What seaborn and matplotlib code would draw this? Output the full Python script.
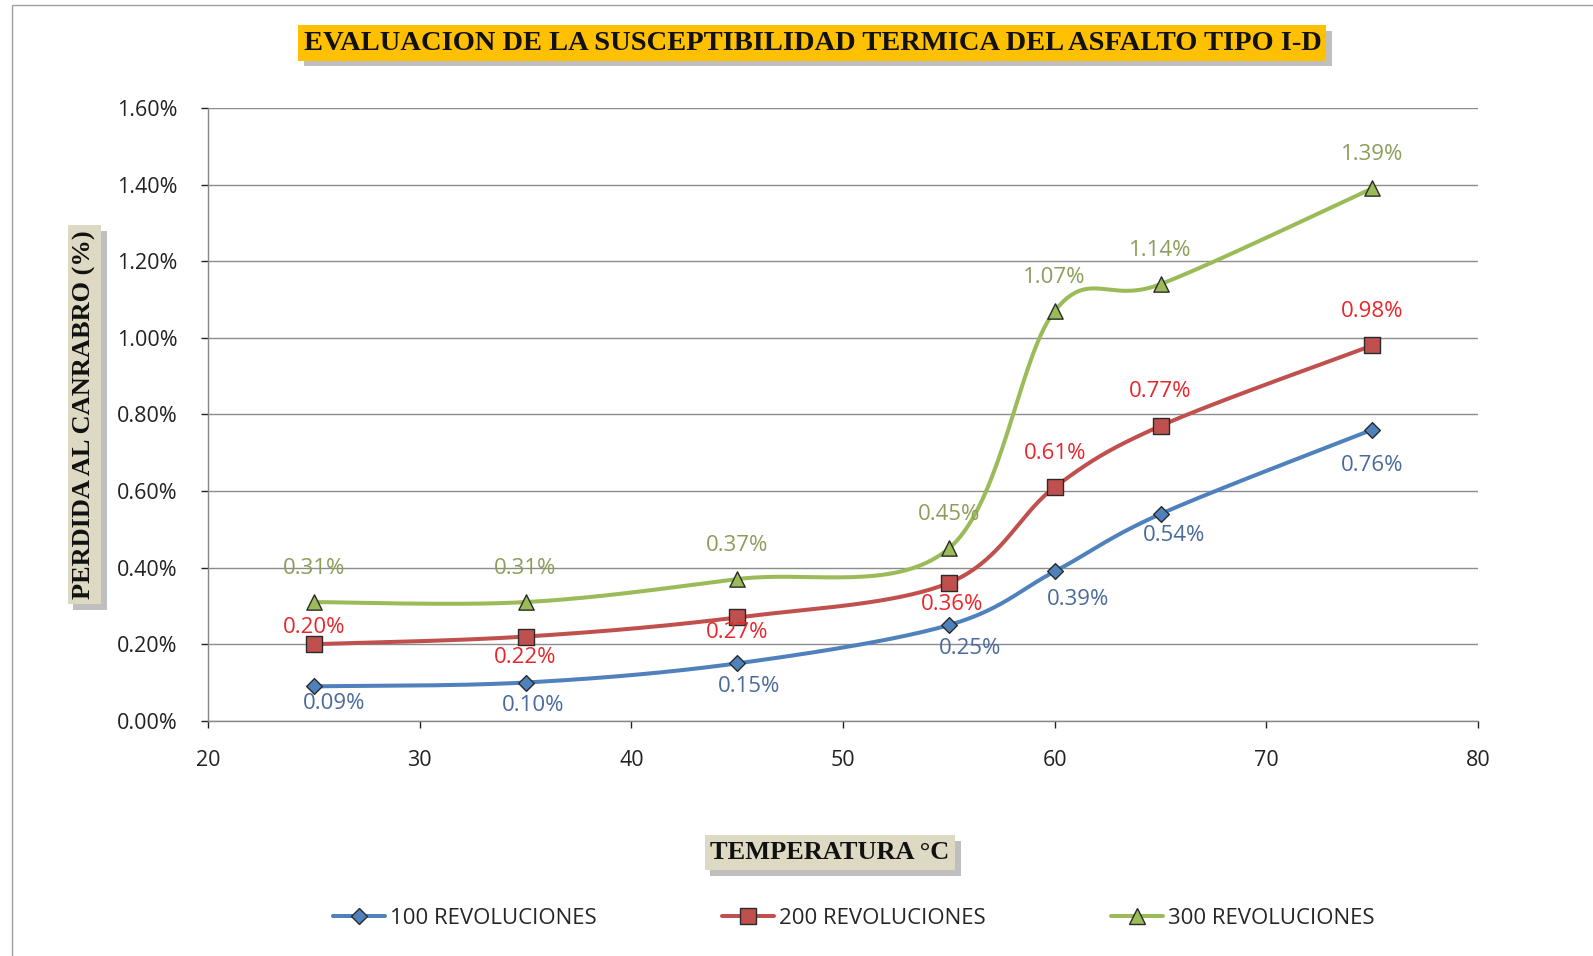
import numpy as np
import pandas as pd
import matplotlib
matplotlib.use("Agg")
import matplotlib.pyplot as plt
import matplotlib.patheffects as pe
from matplotlib.lines import Line2D
from matplotlib.patches import Rectangle
import seaborn as sns

# Temperatures (°C) and mass loss (%) per number of revolutions
temperatura = [25, 35, 45, 55, 60, 65, 75]
rev_100 = [0.09, 0.10, 0.15, 0.25, 0.39, 0.54, 0.76]
rev_200 = [0.20, 0.22, 0.27, 0.36, 0.61, 0.77, 0.98]
rev_300 = [0.31, 0.31, 0.37, 0.45, 1.07, 1.14, 1.39]
series_names = ["100 REVOLUCIONES", "200 REVOLUCIONES", "300 REVOLUCIONES"]
y_ticks = [0.0, 0.2, 0.4, 0.6, 0.8, 1.0, 1.2, 1.4, 1.6]
x_ticks = [20, 30, 40, 50, 60, 70, 80]

line_colors = ["#4F81BD", "#C0504D", "#9BBB59"]
label_colors = ["#4A6A9C", "#E8262B", "#8A9E5A"]
markers = ["D", "s", "^"]
marker_sizes = [8, 11, 11]
# value-label offsets from each point, in pixels (dx, dy)
label_offsets = [
    [(20, -17), (8, -23), (12, -23), (21, -23), (23, -28), (14, -21), (0, -36)],
    [(0, 17), (0, -21), (0, -15), (3, -22), (0, 34), (0, 34), (0, 34)],
    [(0, 34)] * 7,
]


def smooth_curve(xs, ys, n=40):
    """Cubic Bezier smoothing through every point (spreadsheet-style smoothed line)."""
    p = np.column_stack([xs, ys]).astype(float)
    m = len(p)
    out = []
    for i in range(m - 1):
        p0 = p[i - 1] if i > 0 else p[i]
        p1, p2 = p[i], p[i + 1]
        p3 = p[i + 2] if i + 2 < m else p[i + 1]
        c1 = p1 + (p2 - p0) / 6.0
        c2 = p2 - (p3 - p1) / 6.0
        t = np.linspace(0, 1, n)[:, None]
        seg = ((1 - t) ** 3) * p1 + 3 * ((1 - t) ** 2) * t * c1 + 3 * (1 - t) * t ** 2 * c2 + t ** 3 * p2
        out.append(seg if i == 0 else seg[1:])
    return np.vstack(out)


sns.set_theme(style="white")
plt.rcParams["font.family"] = ["Open Sans", "DejaVu Sans"]

fig = plt.figure(figsize=(15.93, 9.56), dpi=100)
fig.patch.set_facecolor("white")
ax = fig.add_axes([0.1306, 0.246, 0.7972, 0.641])

# outer chart frame
fig.add_artist(Rectangle((12 / 1593, -0.05), 1.1, 1 - 5 / 956 + 0.05, transform=fig.transFigure,
                         fill=False, edgecolor="#A0A0A0", linewidth=1.0))

all_series = [rev_100, rev_200, rev_300]
for k, vals in enumerate(all_series):
    curve = smooth_curve(temperatura, vals)
    df_curve = pd.DataFrame({"x": curve[:, 0], "y": curve[:, 1]})
    sns.lineplot(data=df_curve, x="x", y="y", sort=False, estimator=None, ax=ax,
                 color=line_colors[k], linewidth=2.9, zorder=3)
    df_pts = pd.DataFrame({"x": temperatura, "y": vals})
    sns.scatterplot(data=df_pts, x="x", y="y", ax=ax, marker=markers[k],
                    s=marker_sizes[k] ** 2, color=line_colors[k], edgecolor="#2A2A2A",
                    linewidth=1.0, zorder=4)
    for xv, yv, (dx, dy) in zip(temperatura, vals, label_offsets[k]):
        ax.annotate(f"{yv:.2f}%", (xv, yv), xytext=(dx, dy), textcoords="offset pixels",
                    color=label_colors[k], fontsize=16, ha="center", va="center", zorder=5)

ax.set_xlim(20, 80)
ax.set_ylim(0, 1.6)
ax.set_xticks(x_ticks)
ax.set_yticks(y_ticks)
ax.set_yticklabels([f"{v:.2f}%" for v in y_ticks])
ax.tick_params(axis="both", labelsize=15.5, colors="#222222", length=5, width=1, direction="out")
ax.tick_params(axis="x", pad=16)
ax.tick_params(axis="y", pad=17)
ax.grid(axis="y", color="#8C8C8C", linewidth=1.0)
ax.grid(axis="x", visible=False)
for s in ["top", "right"]:
    ax.spines[s].set_visible(False)
for s in ["left", "bottom"]:
    ax.spines[s].set_color("#868686")
    ax.spines[s].set_linewidth(1.0)
ax.xaxis.set_ticks_position("bottom")
ax.yaxis.set_ticks_position("left")
ax.set_xlabel("")
ax.set_ylabel("")

shadow = [pe.SimplePatchShadow(offset=(4, -4), shadow_rgbFace="#808080", alpha=0.5), pe.Normal()]

title = fig.text(0.510, 0.955, "EVALUACION DE LA SUSCEPTIBILIDAD TERMICA DEL ASFALTO TIPO I-D",
                 ha="center", va="center", fontsize=20.5, fontweight="bold",
                 family="Liberation Serif", color="#111111",
                 bbox=dict(boxstyle="square,pad=0.18", facecolor="#FFC000", edgecolor="none"))
title.get_bbox_patch().set_path_effects(shadow)

ylab = fig.text(0.053, 0.566, "PERDIDA AL CANRABRO (%)", ha="center", va="center", rotation=90,
                fontsize=19, fontweight="bold", family="Liberation Serif", color="#111111",
                bbox=dict(boxstyle="square,pad=0.2", facecolor="#DDD9C3", edgecolor="none"))
ylab.get_bbox_patch().set_path_effects(shadow)

xlab = fig.text(0.521, 0.108, "TEMPERATURA °C", ha="center", va="center",
                fontsize=19, fontweight="bold", family="Liberation Serif", color="#111111",
                bbox=dict(boxstyle="square,pad=0.22", facecolor="#DDD9C3", edgecolor="none"))
xlab.get_bbox_patch().set_path_effects(shadow)

handles = [Line2D([0], [0], color=line_colors[k], linewidth=2.9, marker=markers[k],
                  markersize=marker_sizes[k], markerfacecolor=line_colors[k],
                  markeredgecolor="#2A2A2A") for k in range(3)]
fig.legend(handles, series_names, loc="center", bbox_to_anchor=(0.536, 0.039), ncol=3,
           frameon=False, fontsize=16, handlelength=2.35, handletextpad=0.25, columnspacing=5.6)

fig.savefig("out.png", dpi=100, facecolor="white")
